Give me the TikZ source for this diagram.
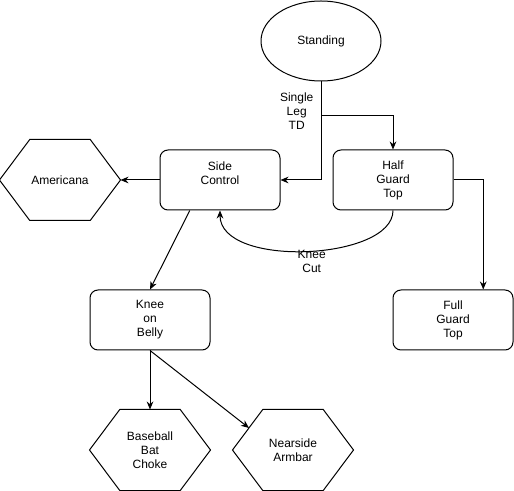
\documentclass[tikz,border=0pt]{standalone}
\usepackage{fontspec}
\setmainfont{Liberation Sans}
\usetikzlibrary{arrows.meta,calc,shapes.geometric,positioning}

\begin{document}
\begin{tikzpicture}[x=0.75pt,y=-0.75pt,line width=0.75pt,
    >={Stealth[length=6pt,width=5pt]},
    every node/.style={font=\fontsize{9}{10.5}\selectfont,align=center},
    box/.style={draw,rounded corners=6pt,minimum width=90pt,minimum height=45pt},
    oval/.style={draw,ellipse,minimum width=90pt,minimum height=60pt},
    hexa/.style={minimum width=90pt,minimum height=60pt}]
    \useasboundingbox (0,0) rectangle (514,491);

    % positions
    \node[oval] (std) at (321,41) {Standing};
    \node[box] (side) at (220,180) {Side\\Control\\\mbox{}};
    \node[box] (half) at (393,180) {Half\\Guard\\Top};
    \node[box] (full) at (453,320) {Full\\Guard\\Top};
    \node[box] (knee) at (150,320) {Knee\\on\\Belly};
    \node[hexa] (amer) at (60,180) {Americana};
    \node[hexa] (bbc) at (150,450) {Baseball\\Bat\\Choke};
    \node[hexa] (arm) at (293,450) {Nearside\\Armbar};

    \foreach \h in {amer,bbc,arm}
        \draw (\h.west) -- ($(\h.north west)!.25!(\h.north east)$) -- ($(\h.north west)!.75!(\h.north east)$)
            -- (\h.east) -- ($(\h.south west)!.75!(\h.south east)$) -- ($(\h.south west)!.25!(\h.south east)$) -- cycle;

    \coordinate (armin) at ($(arm.west)+(16.5,-22)$);

    % transitions
    \draw[->] (std.south) |- node[pos=.15,left=2pt] {Single\\Leg\\TD} (side.east);
    \draw[->] (std.south) -- ++(0,34) -| (half.north);
    \draw[->] (half.east) -| ($(full.north)!.5!(full.north east)$);
    \draw[->] (half.south) .. controls +(0,50) and +(0,58) .. node[pos=.48,yshift=-8pt] {Knee\\Cut} (side.south);
    \draw[->] (side.west) -- (amer.east);
    \draw[->] ($(side.south west)!.25!(side.south east)$) -- (knee.north);
    \draw[->] (knee.south) -- (bbc.north);
    \draw[->] (knee.south) -- (armin);
\end{tikzpicture}
\end{document}
